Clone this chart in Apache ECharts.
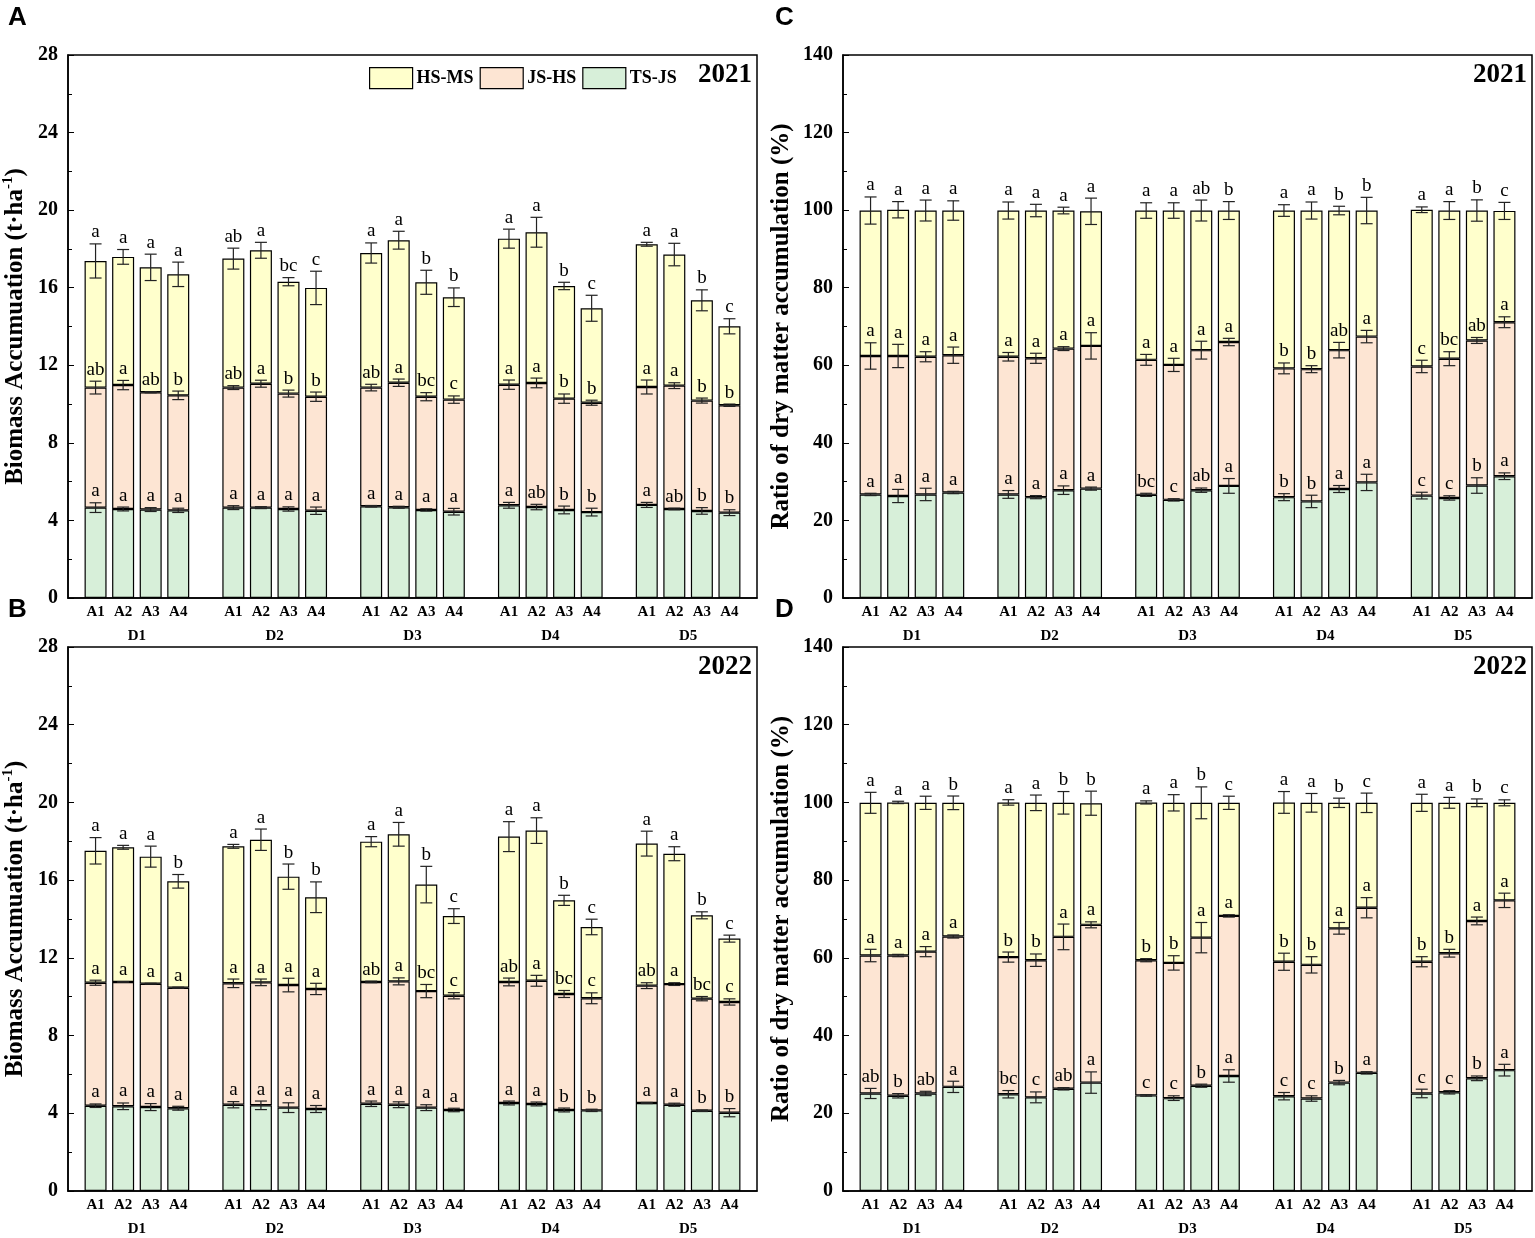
<!DOCTYPE html>
<html>
<head>
<meta charset="utf-8">
<script src="https://cdn.jsdelivr.net/npm/echarts@6/dist/echarts.min.js"></script>
<style>
html,body{margin:0;padding:0;background:#fff;}
#main{width:1535px;height:1238px;}
</style>
</head>
<body>
<div id="main"></div>
<script>
// categories
var groups = ['D1', 'D2', 'D3', 'D4', 'D5'];
var treatments = ['A1', 'A2', 'A3', 'A4'];
var layers = ['TS-JS', 'JS-HS', 'HS-MS'];
var colors = ['#D7EFD9', '#FDE5D3', '#FFFFCC'];

// A: biomass 2021 (cumulative top of each stage, D1A1..D5A4)
var bio21TS = [4.66,4.59,4.56,4.52, 4.66,4.66,4.59,4.50, 4.73,4.68,4.54,4.45, 4.78,4.69,4.54,4.43, 4.80,4.59,4.49,4.40];
var bio21JS = [10.85,10.98,10.61,10.45, 10.85,11.05,10.54,10.38, 10.85,11.10,10.38,10.23, 11.00,11.09,10.28,10.07, 10.88,10.95,10.18,9.94];
var bio21HS = [17.38,17.59,17.05,16.69, 17.50,17.93,16.31,15.99, 17.79,18.45,16.28,15.51, 18.53,18.86,16.09,14.94, 18.24,17.71,15.35,14.01];
var bio21TSerr = [0.25,0.10,0.10,0.11, 0.10,0.05,0.11,0.19, 0.04,0.05,0.06,0.17, 0.15,0.14,0.20,0.20, 0.13,0.04,0.17,0.15];
var bio21JSerr = [0.33,0.24,0.03,0.22, 0.10,0.18,0.18,0.24, 0.17,0.19,0.21,0.19, 0.24,0.25,0.24,0.13, 0.36,0.15,0.13,0.06];
var bio21HSerr = [0.88,0.38,0.68,0.63, 0.54,0.41,0.21,0.86, 0.52,0.46,0.62,0.48, 0.49,0.77,0.19,0.67, 0.10,0.58,0.54,0.39];
var bio21TSlet = 'a a a a a a a a a a a a a ab b b a ab b b'.split(' ');
var bio21JSlet = 'ab a ab b ab a b b ab a bc c a a b b a a b b'.split(' ');
var bio21HSlet = 'a a a a ab a bc c a a b b a a b c a a b c'.split(' ');

// B: biomass 2022
var bio22TS = [4.39,4.36,4.32,4.26, 4.44,4.41,4.29,4.22, 4.49,4.44,4.29,4.17, 4.53,4.48,4.17,4.15, 4.53,4.44,4.13,4.03];
var bio22JS = [10.72,10.76,10.67,10.46, 10.69,10.74,10.60,10.40, 10.76,10.79,10.29,10.05, 10.76,10.82,10.14,9.92, 10.57,10.65,9.90,9.73];
var bio22HS = [17.51,17.69,17.21,15.94, 17.74,18.08,16.18,15.12, 17.98,18.36,15.77,14.15, 18.24,18.55,14.96,13.59, 17.88,17.36,14.19,12.99];
var bio22TSerr = [0.09,0.17,0.18,0.10, 0.16,0.22,0.25,0.18, 0.14,0.15,0.15,0.09, 0.10,0.10,0.10,0.06, 0.03,0.08,0.04,0.21];
var bio22JSerr = [0.13,0.02,0.02,0.03, 0.22,0.17,0.35,0.29, 0.04,0.18,0.34,0.16, 0.20,0.28,0.18,0.28, 0.15,0.07,0.11,0.16];
var bio22HSerr = [0.68,0.10,0.54,0.35, 0.10,0.55,0.65,0.79, 0.26,0.61,0.94,0.38, 0.77,0.66,0.26,0.40, 0.64,0.36,0.18,0.18];
var bio22TSlet = 'a a a a a a a a a a a a a a b b a a b b'.split(' ');
var bio22JSlet = 'a a a a a a a a ab a bc c ab a bc c ab a bc c'.split(' ');
var bio22HSlet = 'a a a b a a b b a a b c a a b c a a b c'.split(' ');

// C: ratio 2021 (%)
var rat21TS = [26.7,26.3,26.7,27.2, 26.7,26.0,27.8,28.2, 26.6,25.3,27.8,28.9, 26.0,24.9,28.1,29.8, 26.4,25.8,29.0,31.4];
var rat21JS = [62.4,62.4,62.2,62.6, 62.2,61.8,64.3,65.0, 61.4,60.1,63.9,66.0, 59.2,59.0,63.9,67.4, 59.7,61.7,66.4,71.1];
var rat21HS = [99.9,100.1,99.9,99.9, 99.9,99.9,99.9,99.7, 99.9,99.9,99.9,99.9, 99.9,99.9,99.9,99.9, 100.1,99.9,99.9,99.8];
var rat21TSerr = [0.3,1.7,1.6,0.3, 1.0,0.4,1.1,0.4, 0.4,0.3,0.56,1.9, 0.9,1.6,0.9,2.1, 0.86,0.56,2.0,0.86];
var rat21JSerr = [3.4,3.0,1.3,2.1, 1.1,1.3,0.5,3.4, 1.4,1.7,2.3,0.95, 1.4,0.9,2.0,1.6, 1.6,1.8,0.77,1.4];
var rat21HSerr = [3.5,2.1,2.7,2.5, 2.2,1.6,0.86,3.4, 2.0,2.0,2.7,2.3, 1.5,2.2,1.1,3.4, 0.73,2.3,2.75,2.2];
var rat21TSlet = 'a a a a a a a a bc c ab a b b a a c c b a'.split(' ');
var rat21JSlet = 'a a a a a a a a a a a a b b ab a c bc ab a'.split(' ');
var rat21HSlet = 'a a a a a a a a a a ab b a a b b a a b c'.split(' ');

// D: ratio 2022 (%)
var rat22TS = [25.1,24.5,25.1,26.8, 24.9,24.1,26.3,27.9, 24.6,23.9,27.1,29.6, 24.4,23.8,27.9,30.4, 25.1,25.4,29.0,31.1];
var rat22JS = [60.6,60.6,61.6,65.5, 60.2,59.4,65.4,68.5, 59.4,58.7,65.2,70.8, 59.0,58.2,67.6,72.9, 59.0,61.2,69.5,74.8];
var rat22HS = [99.9,100,99.9,99.9, 100,99.9,99.9,99.8, 100,99.9,99.9,99.9, 100,99.9,99.9,99.9, 99.9,99.9,99.9,99.9];
var rat22TSerr = [1.3,0.56,0.56,1.45, 0.95,1.4,0.3,2.75, 0.2,0.6,0.4,1.6, 0.95,0.7,0.56,0.3, 1.1,0.43,0.6,1.5];
var rat22JSerr = [1.6,0.3,1.3,0.4, 1.3,1.6,3.3,0.77, 0.4,1.85,3.9,0.3, 2.2,2.1,1.5,2.6, 1.3,1.0,1.0,1.85];
var rat22HSerr = [2.7,0.3,1.7,1.75, 0.7,2.0,2.9,3.1, 0.4,2.1,4.1,1.7, 2.8,2.4,1.2,2.5, 2.2,1.4,1.0,0.77];
var rat22TSlet = 'ab b ab a bc c ab a c c b a c c b a c c b a'.split(' ');
var rat22JSlet = 'a a a a b b a a b b a a b b a a b b a a'.split(' ');
var rat22HSlet = 'a a a b a a b b a a b c a a b c a a b c'.split(' ');

var serif = '"Liberation Serif", "Times New Roman", serif';
var bioName = '{t|Biomass Accumuation (t·ha}{s|-1}{t|)}';
var ratName = '{t|Ratio of dry matter accumulation (%)}';

var panels = [
    {letter: 'A', year: '2021', left: 68, top: 55, height: 543, max: 28, step: 4, name: bioName, gap: 37,
     tops: [bio21TS, bio21JS, bio21HS], errs: [bio21TSerr, bio21JSerr, bio21HSerr], lets: [bio21TSlet, bio21JSlet, bio21HSlet]},
    {letter: 'C', year: '2021', left: 843, top: 55, height: 543, max: 140, step: 20, name: ratName, gap: 46,
     tops: [rat21TS, rat21JS, rat21HS], errs: [rat21TSerr, rat21JSerr, rat21HSerr], lets: [rat21TSlet, rat21JSlet, rat21HSlet]},
    {letter: 'B', year: '2022', left: 68, top: 647, height: 544, max: 28, step: 4, name: bioName, gap: 37,
     tops: [bio22TS, bio22JS, bio22HS], errs: [bio22TSerr, bio22JSerr, bio22HSerr], lets: [bio22TSlet, bio22JSlet, bio22HSlet]},
    {letter: 'D', year: '2022', left: 843, top: 647, height: 544, max: 140, step: 20, name: ratName, gap: 46,
     tops: [rat22TS, rat22JS, rat22HS], errs: [rat22TSerr, rat22JSerr, rat22HSerr], lets: [rat22TSlet, rat22JSlet, rat22HSlet]}
];
var plotWidth = 689;

// 26 slots: a blank before each group and one at the end
var slotLabels = [];
groups.forEach(function () {
    slotLabels.push('');
    treatments.forEach(function (t) { slotLabels.push(t); });
});
slotLabels.push('');
function slotOf(i) { return Math.floor(i / 4) * 5 + (i % 4) + 1; }

var grids = [], xAxes = [], yAxes = [], series = [], graphics = [];

panels.forEach(function (p, k) {
    grids.push({left: p.left, top: p.top, width: plotWidth, height: p.height,
        show: true, borderColor: '#000', borderWidth: 1.5, backgroundColor: 'transparent'});

    xAxes.push({
        type: 'category', gridIndex: k, data: slotLabels, boundaryGap: false,
        axisLine: {lineStyle: {color: '#000', width: 1.5}},
        axisTick: {show: false},
        axisLabel: {interval: 0, margin: 7, color: '#000', fontFamily: serif, fontWeight: 'bold', fontSize: 15},
        splitLine: {show: false}
    });
    xAxes.push({
        type: 'category', gridIndex: k, data: groups, boundaryGap: true, position: 'bottom', offset: 24,
        axisLine: {show: false}, axisTick: {show: false},
        axisLabel: {interval: 0, margin: 7, color: '#000', fontFamily: serif, fontWeight: 'bold', fontSize: 15},
        splitLine: {show: false}
    });
    yAxes.push({
        type: 'value', gridIndex: k, min: 0, max: p.max, interval: p.step,
        name: p.name, nameLocation: 'middle', nameGap: p.gap, nameRotate: 90,
        nameTextStyle: {
            rich: {
                t: {fontFamily: serif, fontWeight: 'bold', fontSize: 25, color: '#000', lineHeight: 30},
                s: {fontFamily: serif, fontWeight: 'bold', fontSize: 15, color: '#000', lineHeight: 30, verticalAlign: 'top', padding: [0, 0, 13, 0]}
            }
        },
        axisLine: {show: true, lineStyle: {color: '#000', width: 1.5}},
        axisTick: {show: true, inside: true, length: 6, lineStyle: {color: '#000'}},
        minorTick: {show: true, splitNumber: 2, length: 4, lineStyle: {color: '#000'}},
        axisLabel: {color: '#000', fontFamily: serif, fontWeight: 'bold', fontSize: 20, margin: 10},
        splitLine: {show: false}
    });

    var errData = [], errLets = [];
    layers.forEach(function (name, L) {
        var seg = slotLabels.map(function () { return '-'; });
        p.tops[L].forEach(function (v, i) {
            var below = L === 0 ? 0 : p.tops[L - 1][i];
            seg[slotOf(i)] = +(v - below).toFixed(3);
            errData.push([slotOf(i), v, p.errs[L][i]]);
            errLets.push(p.lets[L][i]);
        });
        series.push({
            type: 'bar', name: name, xAxisIndex: 2 * k, yAxisIndex: k, stack: 'p' + k,
            barWidth: 22, data: seg,
            itemStyle: {color: colors[L], borderColor: '#000', borderWidth: 1.2}
        });
    });

    series.push({
        type: 'custom', xAxisIndex: 2 * k, yAxisIndex: k, z: 10, data: errData,
        renderItem: function (params, api) {
            var x = api.value(0), v = api.value(1), e = api.value(2);
            var hi = api.coord([x, v + e]), lo = api.coord([x, v - e]);
            var cx = hi[0], w = 6;
            var ln = {stroke: '#222', lineWidth: 1.2};
            return {
                type: 'group',
                children: [
                    {type: 'line', shape: {x1: cx, y1: hi[1], x2: cx, y2: lo[1]}, style: ln},
                    {type: 'line', shape: {x1: cx - w, y1: hi[1], x2: cx + w, y2: hi[1]}, style: ln},
                    {type: 'line', shape: {x1: cx - w, y1: lo[1], x2: cx + w, y2: lo[1]}, style: ln},
                    {type: 'text', style: {text: errLets[params.dataIndex], x: cx, y: hi[1] - 2,
                        align: 'center', verticalAlign: 'bottom', fill: '#000',
                        fontFamily: serif, fontSize: 19}}
                ]
            };
        }
    });

    graphics.push({type: 'text', x: p.left - 60 - (p.left > 400 ? 8 : 0), y: p.top - 50,
        style: {text: p.letter, fill: '#000', font: 'bold 26px "Liberation Sans", Arial, sans-serif'}});
    graphics.push({type: 'text', x: p.left + plotWidth - 5, y: p.top + 20,
        style: {text: p.year, fill: '#000', align: 'right', verticalAlign: 'middle',
            font: 'bold 27px ' + serif}});
});

var myChart = echarts.init(document.getElementById('main'));
myChart.setOption({
    animation: false,
    backgroundColor: '#fff',
    textStyle: {fontFamily: serif},
    legend: {
        data: ['HS-MS', 'JS-HS', 'TS-JS'], left: 364, top: 62,
        icon: 'rect', itemWidth: 43, itemHeight: 21, itemGap: 6, selectedMode: false,
        itemStyle: {borderColor: '#000', borderWidth: 1.2},
        textStyle: {color: '#000', fontFamily: serif, fontWeight: 'bold', fontSize: 18, padding: [0, 0, 0, -1]}
    },
    grid: grids,
    xAxis: xAxes,
    yAxis: yAxes,
    series: series,
    graphic: graphics
});
</script>
</body>
</html>
